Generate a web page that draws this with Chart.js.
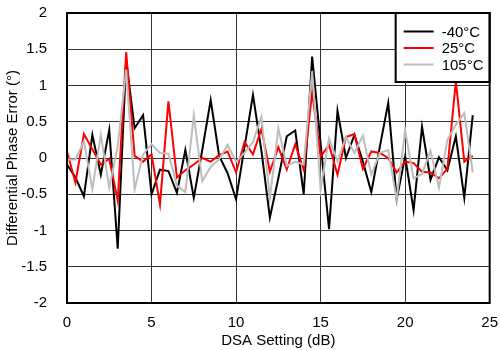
<!DOCTYPE html>
<html>
<head>
<meta charset="utf-8">
<script src="https://cdn.jsdelivr.net/npm/chart.js@4"></script>
<style>
  html, body { margin: 0; padding: 0; background: #fff; }
  #wrap { width: 500px; height: 350px; }
</style>
</head>
<body>
<div id="wrap"><canvas id="c"></canvas></div>
<script>
// DSA setting (dB)
const dsaSetting = [
  0, 0.5, 1, 1.5, 2, 2.5, 3, 3.5, 4, 4.5,
  5, 5.5, 6, 6.5, 7, 7.5, 8, 8.5, 9, 9.5,
  10, 10.5, 11, 11.5, 12, 12.5, 13, 13.5, 14, 14.5,
  15, 15.5, 16, 16.5, 17, 17.5, 18, 18.5, 19, 19.5,
  20, 20.5, 21, 21.5, 22, 22.5, 23, 23.5, 24
];

const tempLabels = ["-40\u00B0C", "25\u00B0C", "105\u00B0C"];

const errCold = [
  -0.09, -0.27, -0.53, 0.32, -0.23, 0.39, -1.25, 1.35, 0.41, 0.59,
  -0.5, -0.16, -0.18, -0.48, 0.11, -0.55, 0.11, 0.8, 0.03, -0.21,
  -0.57, 0.15, 0.87, 0.1, -0.82, -0.28, 0.3, 0.38, -0.5, 1.4,
  0.2, -0.98, 0.65, 0.0, 0.32, -0.05, -0.47, 0.15, 0.76, -0.57,
  0.02, -0.72, 0.43, -0.3, 0.01, -0.17, 0.3, -0.55, 0.59
];

const errRoom = [
  0.09, -0.34, 0.33, 0.12, -0.09, -0.01, -0.59, 1.46, 0.03, -0.05,
  0.05, -0.64, 0.78, -0.27, -0.17, -0.09, 0.0, -0.05, 0.04, 0.09,
  -0.2, 0.22, 0.05, 0.4, -0.19, 0.15, -0.16, 0.19, -0.16, 0.91,
  0.02, 0.18, -0.23, 0.29, 0.33, -0.15, 0.09, 0.07, 0.0, -0.2,
  -0.05, -0.07, -0.19, -0.2, -0.28, -0.15, 1.06, -0.05, 0.03
];

const errHot = [
  -0.02, -0.02, 0.23, -0.43, 0.32, -0.41, 0.16, 1.22, -0.43, 0.05,
  0.19, 0.07, 0.06, -0.38, -0.47, 0.59, -0.32, -0.12, -0.02, 0.18,
  -0.05, 0.07, 0.22, 0.57, -0.55, 0.41, -0.11, -0.05, -0.09, 1.2,
  -0.43, 0.27, -0.05, 0.29, 0.07, 0.31, -0.23, 0.07, 0.11, -0.57,
  0.38, -0.28, -0.22, 0.1, -0.41, 0.25, 0.46, 0.62, -0.2
];

const lineColors = ["#000000", "#ff0000", "#bdbdbd"];
const FONT = "'Liberation Sans', Arial, Helvetica, sans-serif";

function toPoints(ys) {
  return ys.map((y, i) => ({ x: dsaSetting[i], y: y }));
}

// frame round the plot + boxed legend in the top right corner
const framePlugin = {
  id: "frame",
  afterDatasetsDraw(chart) {
    const { ctx, chartArea: a } = chart;
    ctx.save();

    const boxW = 94, boxH = 69;
    const bx = a.right - boxW, by = a.top;
    ctx.fillStyle = "#fff";
    ctx.fillRect(bx, by, boxW, boxH);
    ctx.strokeStyle = "#000";
    ctx.lineWidth = 2;
    ctx.strokeRect(bx, by, boxW, boxH);

    ctx.font = "15px " + FONT;
    ctx.textBaseline = "middle";
    ctx.textAlign = "left";
    tempLabels.forEach((lbl, i) => {
      const yy = by + 18.5 + i * 16.5;
      ctx.strokeStyle = lineColors[i];
      ctx.lineWidth = 2;
      ctx.beginPath();
      ctx.moveTo(bx + 8, yy);
      ctx.lineTo(bx + 38, yy);
      ctx.stroke();
      ctx.fillStyle = "#000";
      ctx.fillText(lbl, bx + 46, yy + 1);
    });

    ctx.strokeStyle = "#000";
    ctx.lineWidth = 2;
    ctx.strokeRect(a.left, a.top, a.right - a.left, a.bottom - a.top);
    ctx.restore();
  }
};

new Chart(document.getElementById("c"), {
  type: "line",
  data: {
    datasets: [
      { label: tempLabels[0], data: toPoints(errCold), borderColor: lineColors[0], order: 3 },
      { label: tempLabels[1], data: toPoints(errRoom), borderColor: lineColors[1], order: 2 },
      { label: tempLabels[2], data: toPoints(errHot), borderColor: lineColors[2], order: 1 }
    ]
  },
  options: {
    responsive: true,
    maintainAspectRatio: false,
    animation: false,
    devicePixelRatio: 1,
    layout: { padding: { top: 13, right: 8, left: 4, bottom: 0 } },
    elements: {
      line: { borderWidth: 2, tension: 0, fill: false },
      point: { radius: 0 }
    },
    plugins: {
      legend: { display: false },
      tooltip: { enabled: false }
    },
    scales: {
      x: {
        type: "linear",
        min: 0,
        max: 25,
        ticks: { stepSize: 5, color: "#000", font: { family: FONT, size: 15 }, padding: 2, maxRotation: 0 },
        grid: { color: "#333", lineWidth: 1, drawTicks: true, tickLength: 9, tickColor: "rgba(0,0,0,0)" },
        border: { display: false },
        title: { display: true, text: "DSA Setting (dB)", color: "#000", font: { family: FONT, size: 15 }, padding: { top: 0, bottom: 0 } },
        afterFit(scale) { scale.height = 47; }
      },
      y: {
        min: -2,
        max: 2,
        ticks: {
          stepSize: 0.5,
          color: "#000",
          font: { family: FONT, size: 15 },
          padding: 3,
          callback: (v) => String(Math.round(v * 10) / 10)
        },
        grid: { color: "#333", lineWidth: 1, drawTicks: true, tickLength: 17, tickColor: "rgba(0,0,0,0)" },
        border: { display: false },
        title: { display: true, text: "Differential Phase Error (\u00B0)", color: "#000", font: { family: FONT, size: 15 }, padding: { top: 0, bottom: 0 } },
        afterFit(scale) { scale.width = 63; }
      }
    }
  },
  plugins: [framePlugin]
});
</script>
</body>
</html>
